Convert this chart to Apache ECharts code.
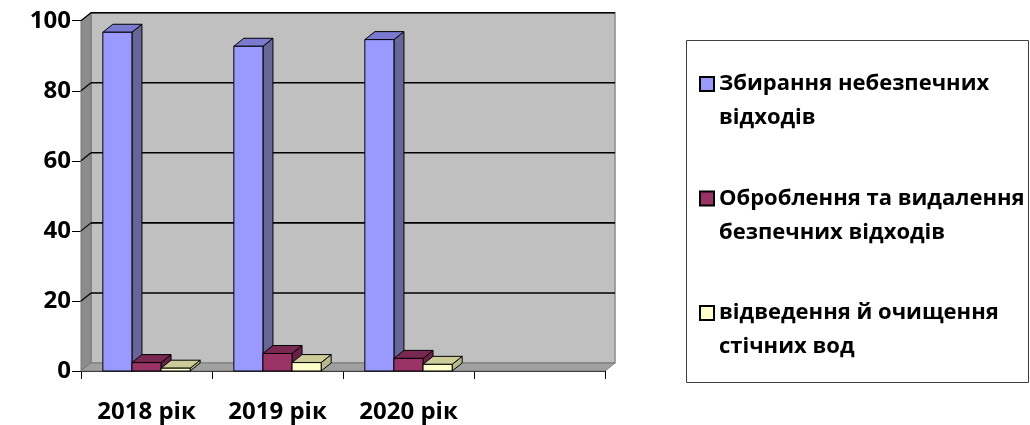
<!DOCTYPE html>
<html>
<head>
<meta charset="utf-8">
<script src="https://cdn.jsdelivr.net/npm/echarts@6/dist/echarts.min.js"></script>
<style>
  html, body { margin: 0; padding: 0; background: #fff; }
  #chart { width: 1030px; height: 425px; }
</style>
</head>
<body>
<div id="chart"></div>
<script>
// Categories (the fourth slot is left empty) and series values, %
const categories = ['2018 рік', '2019 рік', '2020 рік', ''];
const seriesNames = [
  'Збирання небезпечних відходів',
  'Оброблення та видалення безпечних відходів',
  'відведення й очищення стічних вод'
];
const collecting = [96.7, 92.7, 94.6];
const treatment = [2.4, 5.0, 3.6];
const wastewater = [0.8, 2.4, 1.9];
const yTicks = [0, 20, 40, 60, 80, 100];

// Legend captions wrap onto two lines
const legendLines = {
  'Збирання небезпечних відходів': 'Збирання небезпечних\nвідходів',
  'Оброблення та видалення безпечних відходів': 'Оброблення та видалення\nбезпечних відходів',
  'відведення й очищення стічних вод': 'відведення й очищення\nстічних вод'
};

// Depth of the pseudo-3D box (px along x and y)
const DX = 10, DY = -8;
const FONT = '"Open Sans", "DejaVu Sans", sans-serif';

// Face colours: front, side, top
const palettes = [
  { front: '#9999FF', side: '#666699', top: '#7A7AD0' },
  { front: '#993366', side: '#6B1F48', top: '#7A2852' },
  { front: '#FFFFCC', side: '#B9B98C', top: '#CCCC99' }
];

function barRenderer(sIdx) {
  return function (params, api) {
    const cat = api.value(0);
    const val = api.value(1);
    const base = api.coord([cat, 0]);
    const top = api.coord([cat, val]);
    const band = api.size([1, 0])[0];
    const bw = band / 4.5;
    const x0 = base[0] - 1.5 * bw + sIdx * bw;
    const x1 = x0 + bw;
    const yb = base[1], yt = top[1];
    const pal = palettes[sIdx];
    const stroke = { stroke: '#000', lineWidth: 1 };
    return {
      type: 'group',
      children: [
        { type: 'polygon', shape: { points: [[x1, yt], [x1 + DX, yt + DY], [x1 + DX, yb + DY], [x1, yb]] },
          style: Object.assign({ fill: pal.side }, stroke) },
        { type: 'polygon', shape: { points: [[x0, yt], [x0 + DX, yt + DY], [x1 + DX, yt + DY], [x1, yt]] },
          style: Object.assign({ fill: pal.top }, stroke) },
        { type: 'rect', shape: { x: x0, y: yt, width: bw, height: yb - yt },
          style: Object.assign({ fill: pal.front }, stroke) }
      ]
    };
  };
}

// Back wall, left wall, floor and gridlines of the box
function wallRenderer(params, api) {
  const cs = params.coordSys;
  const x = cs.x, y = cs.y, w = cs.width, h = cs.height;
  const children = [];
  children.push({ type: 'rect', shape: { x: x + DX, y: y + DY, width: w, height: h },
    style: { fill: '#C0C0C0', stroke: '#8A8A8A', lineWidth: 1.5 } });
  children.push({ type: 'polygon', shape: { points: [[x, y], [x + DX, y + DY], [x + DX, y + h + DY], [x, y + h]] },
    style: { fill: '#8C8C8C', stroke: '#777', lineWidth: 1 } });
  children.push({ type: 'polygon', shape: { points: [[x, y + h], [x + DX, y + h + DY], [x + w + DX, y + h + DY], [x + w, y + h]] },
    style: { fill: '#A0A0A0', stroke: '#7A7A7A', lineWidth: 1 } });
  yTicks.forEach(function (v) {
    if (v === 0) return;
    const p = api.coord([0, v]);
    const yy = p[1];
    children.push({ type: 'line', shape: { x1: x + DX, y1: yy + DY, x2: x + w + DX, y2: yy + DY },
      style: { stroke: '#000', lineWidth: 1.6 } });
    children.push({ type: 'line', shape: { x1: x, y1: yy, x2: x + DX, y2: yy + DY },
      style: { stroke: '#000', lineWidth: 1.2 } });
  });
  return { type: 'group', children: children };
}

function toData(arr) { return arr.map(function (v, i) { return [i, v]; }); }
const seriesValues = [collecting, treatment, wastewater];

const chart = echarts.init(document.getElementById('chart'), null, { renderer: 'canvas' });
chart.setOption({
  animation: false,
  backgroundColor: '#fff',
  grid: { left: 81, right: 425, top: 20.7, bottom: 54, containLabel: false },
  graphic: [{
    type: 'rect', z: 0, silent: true,
    shape: { x: 686.5, y: 40.5, width: 342, height: 342 },
    style: { fill: '#fff', stroke: '#404040', lineWidth: 1 }
  }],
  legend: {
    orient: 'vertical',
    left: 699, top: 33,
    padding: 0,
    itemWidth: 14, itemHeight: 14,
    itemGap: 12.5,
    icon: 'rect',
    data: seriesNames,
    // a blank leading line keeps the marker level with the first caption line
    formatter: function (name) { return ' \n' + legendLines[name]; },
    textStyle: { fontFamily: FONT, fontWeight: 'bold', fontSize: 22, color: '#000', lineHeight: 34 },
    z: 5
  },
  xAxis: {
    type: 'category',
    data: categories,
    boundaryGap: true,
    axisLine: { show: true, lineStyle: { color: '#000', width: 1 } },
    axisTick: { show: true, length: 8, alignWithLabel: false, lineStyle: { color: '#000' } },
    axisLabel: { fontFamily: FONT, fontWeight: 'bold', fontSize: 24, color: '#000', margin: 29, interval: 0 },
    splitLine: { show: false }
  },
  yAxis: {
    type: 'value',
    min: 0, max: 100, interval: 20,
    axisLine: { show: true, lineStyle: { color: '#000', width: 1 } },
    axisTick: { show: true, length: 9, lineStyle: { color: '#000' } },
    axisLabel: { fontFamily: FONT, fontWeight: 'bold', fontSize: 24, color: '#000', margin: 10 },
    splitLine: { show: false }
  },
  series: [
    { type: 'custom', name: '_box', renderItem: wallRenderer, data: [[0, 0]], z: 1, silent: true }
  ].concat(seriesValues.map(function (vals, i) {
    return {
      type: 'custom',
      name: seriesNames[i],
      renderItem: barRenderer(i),
      encode: { x: 0, y: 1 },
      data: toData(vals),
      z: 2 + i,
      itemStyle: { color: palettes[i].front, borderColor: '#000', borderWidth: 2 }
    };
  }))
});
</script>
</body>
</html>
